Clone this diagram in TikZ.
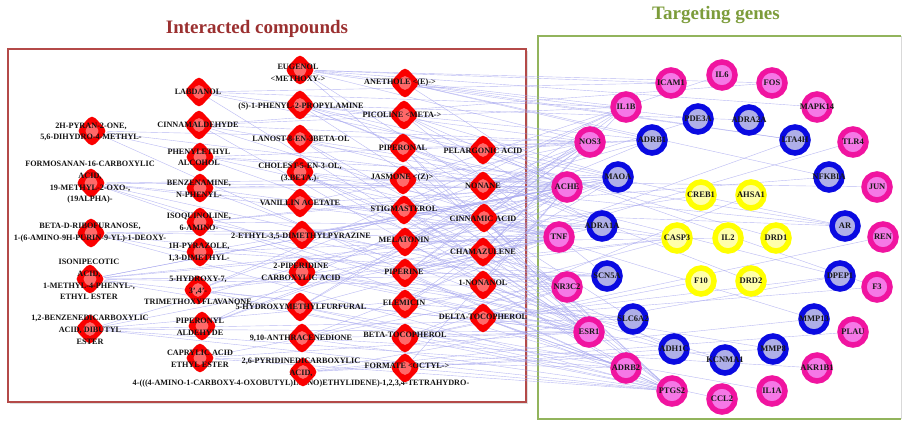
\documentclass[tikz,border=0pt]{standalone}
\usepackage{fontspec}
\setmainfont{Liberation Serif}
\usetikzlibrary{shapes.geometric,shadows}

\pgfdeclarelayer{bg}
\pgfdeclarelayer{links}
\pgfsetlayers{bg,links,main}

\definecolor{boxred}{RGB}{180,74,72}
\definecolor{boxgreen}{RGB}{146,180,92}
\definecolor{titlered}{RGB}{155,48,48}
\definecolor{titlegreen}{RGB}{124,156,58}
\definecolor{dred}{RGB}{250,0,0}
\definecolor{dlight}{RGB}{255,105,105}
\definecolor{gpink}{RGB}{240,20,160}
\definecolor{gpinkin}{RGB}{245,120,230}
\definecolor{gblue}{RGB}{10,10,225}
\definecolor{gbluein}{RGB}{175,175,232}
\definecolor{gyel}{RGB}{255,255,0}
\definecolor{gyelin}{RGB}{255,255,170}
\definecolor{linkc}{RGB}{168,168,240}

\tikzset{
  dia/.style={diamond, fill=dred, minimum width=31pt, minimum height=33pt,
    inner sep=0pt, rounded corners=5pt,
    path picture={\fill[dlight] ([yshift=9pt]path picture bounding box.center)
      -- ++(8.5pt,-9pt) -- ++(-8.5pt,-9pt) -- ++(-8.5pt,9pt) -- cycle;}},
  lbl/.style={font=\bfseries\fontsize{8.2}{11.7}\selectfont, align=center,
    text=black!92, inner sep=0pt},
  gene/.style={circle, line width=5.5pt, minimum size=26pt, inner sep=0pt},
  pinkg/.style={gene, draw=gpink, fill=gpinkin},
  blueg/.style={gene, draw=gblue, fill=gbluein},
  yelg/.style={gene, draw=gyel, fill=gyelin},
  gtxt/.style={font=\bfseries\fontsize{8.5}{9}\selectfont, text=black!90, inner sep=0pt},
  link/.style={draw=linkc, line width=0.4pt, opacity=0.8},
  ttl/.style={font=\bfseries\fontsize{19}{22}\selectfont}
}

% compound: name, diamond position, label position, label text
\newcommand{\cmpd}[4]{\node[dia] (#1) at (#2) {}; \node[lbl] at (#3) {#4};}
% gene: style, name (also its label), position
\newcommand{\gn}[3]{\node[#1] (#2) at (#3) {}; \node[gtxt] at (#3) {#2};}

\begin{document}
\begin{tikzpicture}[x=1pt,y=-1pt]
\useasboundingbox (0,0) rectangle (904,422);

% frames
\begin{pgfonlayer}{bg}
  \coordinate (lbA) at (8,49);
  \coordinate (lbB) at (526,402);
  \draw[boxred, line width=2.6pt, fill=white,
        drop shadow={opacity=0.25, shadow xshift=2pt, shadow yshift=-2pt}]
        (lbA) rectangle (lbB);
  \coordinate (rbA) at (538,36);
  \coordinate (rbB) at (901,419);
  \fill[white] (rbA) rectangle (rbB);
  \draw[black!15, line width=1pt] (rbB) -- (rbB |- rbA);
  \draw[boxgreen, line width=2.6pt] (rbB |- rbA) -- (rbA) -- (rbA |- rbB) -- (rbB);
\end{pgfonlayer}

\node[ttl, text=titlered] (t1) at (257,29) {Interacted compounds};
\node[ttl, text=titlegreen] (t2) at (716,15) {Targeting genes};

% column 1
\cmpd{a1}{92,131}{91,132}{2H-PYRAN-2-ONE,\\5,6-DIHYDRO-4-METHYL-}
\cmpd{a2}{91,183}{90,182.5}{FORMOSANAN-16-CARBOXYLIC\\ACID,\\19-METHYL-2-OXO-,\\(19ALPHA)-}
\cmpd{a3}{91,233}{90,233}{BETA-D-RIBOFURANOSE,\\1-(6-AMINO-9H-PURIN-9-YL)-1-DEOXY-}
\cmpd{a4}{90,279}{89,279.5}{ISONIPECOTIC\\ACID,\\1-METHYL-4-PHENYL-,\\ETHYL ESTER}
\cmpd{a5}{90,329}{90,330}{1,2-BENZENEDICARBOXYLIC\\ACID, DIBUTYL\\ESTER}

% column 2
\cmpd{b1}{199,92}{198,92}{LABDANOL}
\cmpd{b2}{199,125}{198,125}{CINNAMALDEHYDE}
\cmpd{b3}{200,157}{199,157.5}{PHENYLETHYL\\ALCOHOL}
\cmpd{b4}{200,188}{199,189}{BENZENAMINE,\\N-PHENYL-}
\cmpd{b5}{200,222}{199,221.5}{ISOQUINOLINE,\\6-AMINO-}
\cmpd{b6}{200,252}{199,252.5}{1H-PYRAZOLE,\\1,3-DIMETHYL-}
\cmpd{b7}{198,290}{198,290.5}{5-HYDROXY-7,\\3',4'-\\TRIMETHOXYFLAVANONE}
\cmpd{b8}{202,326}{200,326.5}{PIPERONYL\\ALDEHYDE}
\cmpd{b9}{200,358}{200,359}{CAPRYLIC ACID\\ETHYL ESTER}
\node[lbl] (b10) at (301,384) {4-(((4-AMINO-1-CARBOXY-4-OXOBUTYL)IMINO)ETHYLIDENE)-1,2,3,4-TETRAHYDRO-};

% column 3
\cmpd{c1}{300,70}{298,72.5}{EUGENOL\\<METHOXY->}
\cmpd{c2}{300,105}{301,107}{(S)-1-PHENYL-2-PROPYLAMINE}
\cmpd{c3}{300,139}{301,139}{LANOST-8-EN-3BETA-OL}
\cmpd{c4}{300,172}{300,172.5}{CHOLEST-5-EN-3-OL,\\(3.BETA.)-}
\cmpd{c5}{300,203}{300,203}{VANILLIN ACETATE}
\cmpd{c6}{302,235}{301,236}{2-ETHYL-3,5-DIMETHYLPYRAZINE}
\cmpd{c7}{302,272}{301,271.5}{2-PIPERIDINE\\CARBOXYLIC ACID}
\cmpd{c8}{300,307}{301,307}{5-HYDROXYMETHYLFURFURAL}
\cmpd{c9}{302,338}{301,338}{9,10-ANTHRACENEDIONE}
\cmpd{c10}{303,372}{301,367.5}{2,6-PYRIDINEDICARBOXYLIC\\ACID,}

% column 4
\cmpd{d1}{405,83}{400,83}{ANETHOLE <(E)->}
\cmpd{d2}{404,115}{402,115}{PICOLINE <META->}
\cmpd{d3}{403,148}{403,148}{PIPERONAL}
\cmpd{d4}{403,180}{402,178}{JASMONE <(Z)>}
\cmpd{d5}{404,210}{404,209}{STIGMASTEROL}
\cmpd{d6}{405,242}{404,240}{MELATONIN}
\cmpd{d7}{405,273}{404,272}{PIPERINE}
\cmpd{d8}{405,304}{404,303}{ELEMICIN}
\cmpd{d9}{405,338}{405,335}{BETA-TOCOPHEROL}
\cmpd{d10}{405,368}{407,366}{FORMATE <OCTYL->}

% column 5
\cmpd{e1}{483,150}{483,151}{PELARGONIC ACID}
\cmpd{e2}{483,186}{483,186}{NONANE}
\cmpd{e3}{484,218}{483,219}{CINNAMIC ACID}
\cmpd{e4}{483,252}{483,252}{CHAMAZULENE}
\cmpd{e5}{483,285}{483,283}{1-NONANOL}
\cmpd{e6}{483,318}{483,317}{DELTA-TOCOPHEROL}

% genes, outer ring
\gn{pinkg}{ICAM1}{671,83}
\gn{pinkg}{IL6}{722,75}
\gn{pinkg}{FOS}{772,83}
\gn{pinkg}{IL1B}{626,107}
\gn{pinkg}{MAPK14}{817,107}
\gn{pinkg}{NOS3}{590,142}
\gn{pinkg}{TLR4}{853,142}
\gn{pinkg}{ACHE}{567,187}
\gn{pinkg}{JUN}{877,187}
\gn{pinkg}{TNF}{559,237}
\gn{pinkg}{REN}{883,237}
\gn{pinkg}{NR3C2}{567,287}
\gn{pinkg}{F3}{877,287}
\gn{pinkg}{ESR1}{589,332}
\gn{pinkg}{PLAU}{853,332}
\gn{pinkg}{ADRB2}{626,368}
\gn{pinkg}{AKR1B1}{817,368}
\gn{pinkg}{PTGS2}{672,391}
\gn{pinkg}{IL1A}{772,391}
\gn{pinkg}{CCL2}{722,399}
% genes, middle ring
\gn{blueg}{PDE3A}{698,119}
\gn{blueg}{ADRA2A}{749,120}
\gn{blueg}{ADRB1}{652,140}
\gn{blueg}{LTA4H}{795,140}
\gn{blueg}{MAOA}{618,177}
\gn{blueg}{NFKBIA}{829,177}
\gn{blueg}{ADRA1A}{602,226}
\gn{blueg}{AR}{845,226}
\gn{blueg}{SCN5A}{607,276}
\gn{blueg}{DPEP1}{840,276}
\gn{blueg}{SLC6A2}{633,319}
\gn{blueg}{MMP13}{814,319}
\gn{blueg}{ADH1C}{674,349}
\gn{blueg}{MMP8}{773,349}
\gn{blueg}{KCNMA1}{725,360}
% genes, inner ring
\gn{yelg}{CREB1}{701,195}
\gn{yelg}{AHSA1}{751,195}
\gn{yelg}{CASP3}{677,238}
\gn{yelg}{IL2}{728,238}
\gn{yelg}{DRD1}{776,238}
\gn{yelg}{F10}{701,281}
\gn{yelg}{DRD2}{751,281}

% compound-target links
\begin{pgfonlayer}{links}
\foreach \s/\t in {
  a1/NOS3, a1/ACHE, a1/TNF, a1/PTGS2,
  a2/ACHE, a2/TNF, a2/NR3C2, a2/ESR1, a2/MAOA, a2/ADRB2, a2/CASP3,
  a3/TNF, a3/NR3C2, a3/ESR1, a3/ADRA1A, a3/PTGS2,
  a4/ACHE, a4/TNF, a4/NR3C2, a4/ESR1, a4/SCN5A, a4/ADRA1A, a4/MAOA, a4/ADRB2,
  a5/ACHE, a5/NR3C2, a5/ESR1, a5/PTGS2, a5/ADRB2, a5/SLC6A2, a5/TNF,
  b1/ICAM1, b1/NOS3, b1/ESR1, b1/IL1B, b1/AR,
  b2/NOS3, b2/IL1B, b2/TNF, b2/ACHE, b2/PTGS2, b2/FOS,
  b3/ACHE, b3/MAOA, b3/ADRB1, b3/NR3C2,
  b4/MAOA, b4/ACHE, b4/TNF, b4/ESR1,
  b5/ACHE, b5/ADRA1A, b5/MAOA, b5/NR3C2, b5/ESR1,
  b6/TNF, b6/ACHE, b6/SCN5A,
  b7/PTGS2, b7/ESR1, b7/NOS3, b7/TNF, b7/CASP3, b7/IL1B,
  b8/ACHE, b8/MAOA, b8/NOS3,
  b9/ESR1, b9/ADRB2, b9/NR3C2, b9/PTGS2,
  c1/ICAM1, c1/IL1B, c1/NOS3, c1/FOS, c1/LTA4H, c1/MAPK14, c1/PTGS2, c1/TNF,
  c2/ADRB1, c2/ADRA2A, c2/MAOA, c2/SLC6A2, c2/ADRA1A, c2/DRD1, c2/DRD2,
  c3/ESR1, c3/NR3C2, c3/AR, c3/DPEP1,
  c4/ESR1, c4/NR3C2, c4/AR, c4/ADH1C, c4/TNF, c4/CASP3,
  c5/ACHE, c5/NOS3, c5/ADRA1A,
  c6/ACHE, c6/MAOA, c6/SCN5A,
  c7/ACHE, c7/SLC6A2, c7/MMP8, c7/KCNMA1,
  c8/TNF, c8/IL1B, c8/NOS3, c8/CCL2, c8/IL1A,
  c9/TNF, c9/CASP3, c9/ESR1, c9/AKR1B1, c9/PTGS2,
  c10/MMP13, c10/MMP8, c10/DPEP1, c10/PLAU,
  d1/ADRB1, d1/PDE3A, d1/LTA4H, d1/NFKBIA, d1/ACHE,
  d2/ACHE, d2/MAOA, d2/ADRA1A, d2/SCN5A,
  d3/ACHE, d3/NOS3, d3/PTGS2, d3/TNF, d3/ESR1,
  d4/PTGS2, d4/TNF, d4/IL6, d4/JUN,
  d5/ESR1, d5/NR3C2, d5/AR, d5/TNF, d5/NFKBIA, d5/IL1B,
  d6/MAOA, d6/ADRB1, d6/CREB1, d6/ESR1, d6/TNF, d6/NOS3, d6/IL2,
  d7/TNF, d7/PTGS2, d7/NOS3, d7/MAOA, d7/ACHE, d7/SCN5A, d7/IL1B, d7/CASP3, d7/TLR4, d7/ADRA1A,
  d8/MAOA, d8/ACHE, d8/ADRB2, d8/SLC6A2,
  d9/ESR1, d9/PTGS2, d9/NR3C2, d9/AHSA1, d9/F10, d9/REN,
  d10/ACHE, d10/ADH1C, d10/PTGS2,
  e1/ACHE, e1/NOS3, e1/ADRB1, e1/F3,
  e2/ADRB1, e2/ACHE, e2/PDE3A,
  e3/PTGS2, e3/ESR1, e3/NOS3, e3/TNF, e3/MMP13, e3/ACHE,
  e4/TNF, e4/IL1B, e4/NOS3, e4/PTGS2, e4/LTA4H,
  e5/ACHE, e5/ADRB2, e5/KCNMA1, e5/ADH1C,
  e6/ESR1, e6/NR3C2, e6/PTGS2, e6/ADRB2, e6/F3, e6/DPEP1}
  \draw[link] (\s) -- (\t);
\end{pgfonlayer}

\end{tikzpicture}
\end{document}
